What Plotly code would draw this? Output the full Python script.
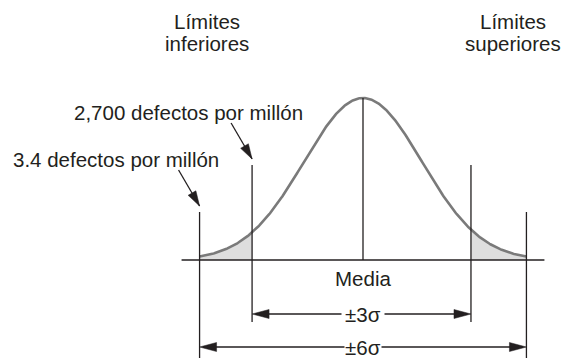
import numpy as np
import plotly.graph_objects as go

# ---------------- data (x in units of the drawn sigma, curve peak = 1) ----------------
mean = 0.0
sigma = 1.0
inner_limits = [-1.88, 1.83]      # lines marked ±3σ
outer_limits = [-2.77, 2.77]      # lines marked ±6σ
inner_label = "±3σ"
outer_label = "±6σ"
mean_label = "Media"
lower_title = ["Límites", "inferiores"]
upper_title = ["Límites", "superiores"]
defect_labels = ["2,700 defectos por millón", "3.4 defectos por millón"]

# ---------------- layout / style constants ----------------
W, H = 562, 358
PX_X = 59.0     # pixels per x unit
PX_Y = 162.0    # pixels per y unit
MEAN_PX = 363
BASE_PX = 260
FONT = "Liberation Sans, Arial, Helvetica, sans-serif"
FS = 20.5
TXT = "#231f20"
INK = "#231f20"
CURVE = "#7a7a7a"
SHADE = "#dedede"


def to_data(px, py):
    return ((px - MEAN_PX) / PX_X, (BASE_PX - py) / PX_Y)


def to_px(x, y):
    return (MEAN_PX + x * PX_X, BASE_PX - y * PX_Y)


def dy(p):
    return p / PX_Y


def dx(p):
    return p / PX_X


def bell(x):
    return np.exp(-0.5 * ((x - mean) / sigma) ** 2)


fig = go.Figure()

# shaded tails
for a, b in [(outer_limits[0], inner_limits[0]), (inner_limits[1], outer_limits[1])]:
    xs = np.linspace(a, b, 80)
    ys = bell(xs)
    px_ = np.concatenate([xs, [b, a, a]])
    py_ = np.concatenate([ys, [0, 0, ys[0]]])
    fig.add_trace(go.Scatter(x=px_, y=py_, mode="lines", fill="toself",
                             fillcolor=SHADE, line=dict(width=0),
                             hoverinfo="skip"))

# bell curve
xc = np.linspace(outer_limits[0], outer_limits[1], 400)
fig.add_trace(go.Scatter(x=xc, y=bell(xc), mode="lines",
                         line=dict(color=CURVE, width=2.6), hoverinfo="skip"))

shapes = []


def vline(x, y0, y1, w=1.3):
    shapes.append(dict(type="line", xref="x", yref="y", x0=x, x1=x, y0=y0, y1=y1,
                       line=dict(color=INK, width=w)))


def hline(y, x0, x1, w=1.3):
    shapes.append(dict(type="line", xref="x", yref="y", x0=x0, x1=x1, y0=y, y1=y,
                       line=dict(color=INK, width=w)))


def head(tip, ux, uy, length, half):
    """Filled arrowhead; tip in data coords, direction (ux, uy) in pixel space."""
    tx, ty = to_px(*tip)
    n = (ux ** 2 + uy ** 2) ** 0.5
    ux, uy = ux / n, uy / n
    bx, by = tx - ux * length, ty - uy * length
    pxs = [(tx, ty), (bx - uy * half, by + ux * half), (bx + uy * half, by - ux * half)]
    pts = [to_data(p[0], p[1]) for p in pxs]
    path = "M{},{} L{},{} L{},{} Z".format(pts[0][0], pts[0][1], pts[1][0], pts[1][1],
                                            pts[2][0], pts[2][1])
    shapes.append(dict(type="path", xref="x", yref="y", path=path,
                       fillcolor=INK, line=dict(color=INK, width=0.5)))


# baseline
hline(0, outer_limits[0] - dx(18), outer_limits[1] + dx(18), w=1.4)
# mean line
vline(mean, 0, bell(mean), w=1.3)
# inner limit lines
for x in inner_limits:
    vline(x, -dy(62), dy(95))
# outer limit lines
for x in outer_limits:
    vline(x, -dy(120), dy(48))

# dimension arrows
dims = [(inner_limits, -dy(54), inner_label, 3), (outer_limits, -dy(87), outer_label, 0)]
annotations = []
for lims, yv, lab, pad in dims:
    hline(yv, lims[0] + dx(10), lims[1] - dx(10), w=1.3)
    head((lims[0], yv), -1, 0, 17, 4.5)
    head((lims[1], yv), 1, 0, 17, 4.5)
    annotations.append(dict(x=mean, y=yv, xref="x", yref="y",
                            text=lab, showarrow=False,
                            bgcolor="white", borderpad=pad,
                            font=dict(family=FONT, size=FS, color=TXT),
                            xanchor="center", yanchor="middle"))

# pointer arrows (to tops of the limit lines)
pointer_targets = [(inner_limits[0], dy(95)), (outer_limits[0], dy(48))]
for (x, top) in pointer_targets:
    tip = (x, top + dy(6))
    tx, ty = to_px(*tip)
    sx, sy = tx - 21, ty - 36
    s = to_data(sx, sy)
    shapes.append(dict(type="line", xref="x", yref="y", x0=s[0], y0=s[1],
                       x1=tip[0], y1=tip[1], line=dict(color=INK, width=1.3)))
    head(tip, 21, 36, 15, 4.5)


def label(text, px, py, anchor="center"):
    x, y = to_data(px, py)
    annotations.append(dict(x=x, y=y, xref="x", yref="y", text=text, showarrow=False,
                            font=dict(family=FONT, size=FS, color=TXT),
                            xanchor=anchor, yanchor="middle"))


label(lower_title[0], 207, 21)
label(lower_title[1], 207, 43)
label(upper_title[0], 513, 21)
label(upper_title[1], 513, 43)
label(defect_labels[0], 72, 112, "left")
label(defect_labels[1], 11, 159, "left")
label(mean_label, MEAN_PX, 278)

x_range = [to_data(0, 0)[0], to_data(W, 0)[0]]
y_range = [to_data(0, H)[1], to_data(0, 0)[1]]

fig.update_layout(
    width=W, height=H,
    margin=dict(l=0, r=0, t=0, b=0),
    paper_bgcolor="white", plot_bgcolor="white",
    showlegend=False,
    xaxis=dict(range=x_range, visible=False, fixedrange=True),
    yaxis=dict(range=y_range, visible=False, fixedrange=True),
    shapes=shapes,
    annotations=annotations,
)

fig.write_html(
    "out.html",
    config={"displayModeBar": False},
    post_script="document.body.style.margin='0';document.body.style.overflow='hidden';",
)
